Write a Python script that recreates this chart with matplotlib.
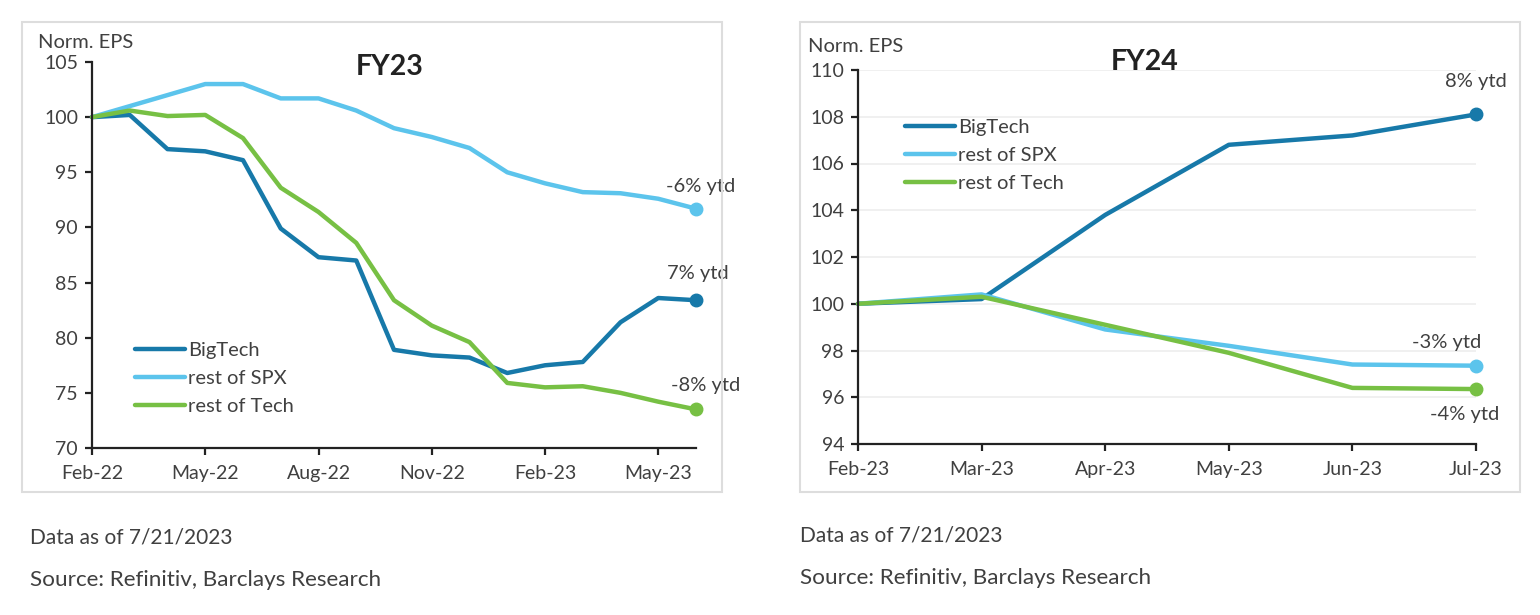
import matplotlib
matplotlib.use("Agg")
import matplotlib.pyplot as plt
from matplotlib.patches import Rectangle

plt.rcParams["font.family"] = ["Lato", "DejaVu Sans"]

# FY23 panel, monthly Feb-22 .. Jun-23
fy23_months = list(range(17))
fy23_ticks = [0, 3, 6, 9, 12, 15]
fy23_ticklabels = ["Feb-22", "May-22", "Aug-22", "Nov-22", "Feb-23", "May-23"]
fy23_bigtech = [100, 100.2, 97.1, 96.9, 96.1, 89.9, 87.3, 87.0, 78.9, 78.4,
                78.2, 76.8, 77.5, 77.8, 81.4, 83.6, 83.4]
fy23_spx = [100, 101.0, 102.0, 103.0, 103.0, 101.7, 101.7, 100.6, 99.0, 98.2,
            97.2, 95.0, 94.0, 93.2, 93.1, 92.6, 91.7]
fy23_tech = [100, 100.6, 100.1, 100.2, 98.1, 93.6, 91.4, 88.6, 83.4, 81.1,
             79.6, 75.9, 75.5, 75.6, 75.0, 74.2, 73.5]
fy23_labels = ["7% ytd", "-6% ytd", "-8% ytd"]

# FY24 panel, monthly Feb-23 .. Jul-23
fy24_months = list(range(6))
fy24_ticklabels = ["Feb-23", "Mar-23", "Apr-23", "May-23", "Jun-23", "Jul-23"]
fy24_bigtech = [100, 100.2, 103.8, 106.8, 107.2, 108.1]
fy24_spx = [100, 100.4, 98.9, 98.2, 97.4, 97.35]
fy24_tech = [100, 100.3, 99.1, 97.9, 96.4, 96.35]
fy24_labels = ["8% ytd", "-3% ytd", "-4% ytd"]

series_names = ["BigTech", "rest of SPX", "rest of Tech"]
colors = ["#1779a9", "#5cc4ec", "#77c044"]
text_color = "#404040"

fig = plt.figure(figsize=(15.4, 6.15), dpi=100)

# panel frames
for x0, w in [(22, 700), (800, 720)]:
    fig.patches.append(Rectangle((x0 / 1540, (615 - 492) / 615), w / 1540, 470 / 615,
                                 transform=fig.transFigure, fill=False,
                                 edgecolor="#dddddd", linewidth=1.5))


def style_axes(ax):
    for side in ["top", "right"]:
        ax.spines[side].set_visible(False)
    for side in ["left", "bottom"]:
        ax.spines[side].set_linewidth(1.6)
        ax.spines[side].set_color("#222222")
    ax.tick_params(axis="both", direction="out", length=5, width=1.6,
                   labelsize=14, labelcolor=text_color, color="#222222")
    ax.tick_params(axis="x", pad=7)
    ax.tick_params(axis="y", pad=5)


def draw_panel(ax, x, values, labels, offsets):
    for ys, name, color, lab, off in zip(values, series_names, colors, labels, offsets):
        ax.plot(x, ys, color=color, linewidth=3.2, label=name, solid_capstyle="round",
                clip_on=False)
        ax.plot(x[-1], ys[-1], "o", color=color, markersize=9, clip_on=False)
        ax.annotate(lab, (x[-1], ys[-1]), xytext=off, textcoords="offset points",
                    ha="center", va="center", fontsize=14.5, color=text_color)


def add_legend(ax, anchor):
    ax.legend(loc="upper left", bbox_to_anchor=anchor, frameon=False, fontsize=14.5,
              handlelength=2.5, handletextpad=0.15, labelspacing=0.55, borderaxespad=0,
              borderpad=0, labelcolor=text_color)


ax1 = fig.add_axes([92 / 1540, (615 - 448) / 615, (696 - 92) / 1540, 386 / 615])
style_axes(ax1)
draw_panel(ax1, fy23_months, [fy23_bigtech, fy23_spx, fy23_tech], fy23_labels,
           [(1.5, 19), (3, 16), (7, 17)])
ax1.set_xlim(0, 16)
ax1.set_ylim(70, 105)
ax1.set_yticks(range(70, 106, 5))
ax1.set_xticks(fy23_ticks)
ax1.set_xticklabels(fy23_ticklabels)
add_legend(ax1, (0.071, 0.275))
fig.text(38 / 1540, 1 - 43 / 615, "Norm. EPS", fontsize=14.5, color=text_color, va="center")
fig.text(390 / 1540, 1 - 67 / 615, "FY23", fontsize=20.5, fontweight="bold",
         color="#222222", ha="center", va="center")

ax2 = fig.add_axes([858 / 1540, (615 - 444) / 615, (1476 - 858) / 1540, 374 / 615])
style_axes(ax2)
ax2.grid(axis="y", color="#eeeeee", linewidth=1.2)
ax2.set_axisbelow(True)
draw_panel(ax2, fy24_months, [fy24_bigtech, fy24_spx, fy24_tech], fy24_labels,
           [(0, 24), (-21, 17), (-8, -18)])
ax2.set_xlim(0, 5)
ax2.set_ylim(94, 110)
ax2.set_yticks(range(94, 111, 2))
ax2.set_xticks(fy24_months)
ax2.set_xticklabels(fy24_ticklabels)
add_legend(ax2, (0.076, 0.869))
fig.text(808 / 1540, 1 - 47 / 615, "Norm. EPS", fontsize=14.5, color=text_color, va="center")
fig.text(1145 / 1540, 1 - 62 / 615, "FY24", fontsize=20.5, fontweight="bold",
         color="#222222", ha="center", va="center")

# footnotes
for x0, y1, y2 in [(30, 538, 580), (800, 535, 578)]:
    fig.text(x0 / 1540, 1 - y1 / 615, "Data as of 7/21/2023", fontsize=15,
             color=text_color, va="center")
    fig.text(x0 / 1540, 1 - y2 / 615, "Source: Refinitiv, Barclays Research", fontsize=16.2,
             color=text_color, va="center")

fig.savefig("out.png", dpi=100, facecolor="white")
